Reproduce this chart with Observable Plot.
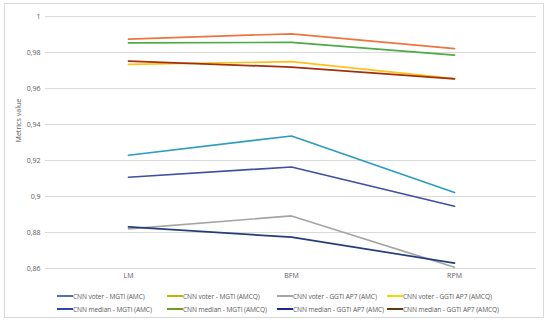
<!DOCTYPE html>
<html>
<head>
<meta charset="utf-8">
<script src="https://cdn.jsdelivr.net/npm/d3@7"></script>
<script src="https://cdn.jsdelivr.net/npm/@observablehq/plot@0.6"></script>
<style>
  html, body { margin: 0; padding: 0; background: #fff; }
  #wrap { position: relative; width: 550px; height: 323px; overflow: hidden; font-family: "Open Sans", "Liberation Sans", sans-serif; }
  #frame { position: absolute; left: 4px; top: 3px; width: 540px; height: 315px; border: 1px solid #D9D9D9; box-sizing: border-box; pointer-events: none; }
  #chart { position: absolute; left: 0; top: 0; }
  #legend { position: absolute; left: 57px; top: 290px; display: grid; grid-template-columns: 110px 110px 110px 110px; row-gap: 1px; font-size: 6.6px; letter-spacing: -0.08px; color: #595959; }
  .item { display: flex; align-items: center; height: 12px; white-space: nowrap; }
  .sw { width: 16px; height: 1.6px; margin-right: 0px; flex: none; }
</style>
</head>
<body>
<div id="wrap">
  <div id="chart"></div>
  <div id="legend"></div>
  <div id="frame"></div>
</div>
<script>
const categories = ["LM", "BFM", "RPM"];
const seriesNames = [
  "CNN voter - MGTI (AMC)",
  "CNN voter - MGTI (AMCQ)",
  "CNN voter - GGTI AP7 (AMC)",
  "CNN voter - GGTI AP7 (AMCQ)",
  "CNN median - MGTI (AMC)",
  "CNN median - MGTI (AMCQ)",
  "CNN median - GGTI AP7 (AMC)",
  "CNN median - GGTI AP7 (AMCQ)"
];
const voterMgtiAmc = [0.9229, 0.9336, 0.9022];
const voterMgtiAmcq = [0.9874, 0.9904, 0.9821];
const voterGgtiAmc = [0.8820, 0.8892, 0.8607];
const voterGgtiAmcq = [0.9734, 0.9749, 0.9655];
const medianMgtiAmc = [0.9107, 0.9164, 0.8946];
const medianMgtiAmcq = [0.9854, 0.9856, 0.9785];
const medianGgtiAmc = [0.8831, 0.8774, 0.8630];
const medianGgtiAmcq = [0.9752, 0.9719, 0.9653];
const yTicks = [0.86, 0.88, 0.9, 0.92, 0.94, 0.96, 0.98, 1];

const seriesValues = [voterMgtiAmc, voterMgtiAmcq, voterGgtiAmc, voterGgtiAmcq,
                      medianMgtiAmc, medianMgtiAmcq, medianGgtiAmc, medianGgtiAmcq];
const lineColors = ["#2B9DC0", "#EE7440", "#A5A5A5", "#FFC21A", "#3F4FA6", "#4DAA48", "#243D7C", "#A0300E"];
const legendColors = ["#4A6FC4", "#C8B000", "#A5A5A5", "#E6E000", "#2E48A6", "#6E9A26", "#1B2A82", "#5E3C10"];

const rows = [];
seriesNames.forEach((s, i) => {
  categories.forEach((c, j) => rows.push({series: s, cat: c, value: seriesValues[i][j]}));
});

const fmt = d => String(+d.toFixed(2)).replace(".", ",");

const plot = Plot.plot({
  width: 550,
  height: 285,
  marginLeft: 45,
  marginRight: 14,
  marginTop: 16,
  marginBottom: 17,
  style: {fontFamily: "'Open Sans', 'Liberation Sans', sans-serif", fontSize: "7px", color: "#595959", background: "transparent"},
  x: {type: "point", domain: categories, padding: 0.5, label: null},
  y: {domain: [0.86, 1], label: null},
  color: {domain: seriesNames, range: lineColors},
  marks: [
    Plot.ruleY(yTicks, {stroke: "#D9D9D9", strokeWidth: 1}),
    Plot.axisY({ticks: yTicks, tickFormat: fmt, tickSize: 0, tickPadding: 5, label: null, fill: "#595959"}),
    Plot.axisX({tickSize: 0, tickPadding: 5, label: null, fill: "#595959"}),
    Plot.text(["Metrics value"], {frameAnchor: "left", dx: -27, rotate: -90, fill: "#595959", fontSize: 7.1}),
    Plot.line(rows, {x: "cat", y: "value", z: "series", stroke: "series", strokeWidth: 1.7, curve: "linear"})
  ]
});
document.getElementById("chart").appendChild(plot);

const legend = document.getElementById("legend");
seriesNames.forEach((s, i) => {
  const it = document.createElement("div");
  it.className = "item";
  const sw = document.createElement("span");
  sw.className = "sw";
  sw.style.background = legendColors[i];
  const tx = document.createElement("span");
  tx.textContent = s;
  it.appendChild(sw);
  it.appendChild(tx);
  legend.appendChild(it);
});
</script>
</body>
</html>
